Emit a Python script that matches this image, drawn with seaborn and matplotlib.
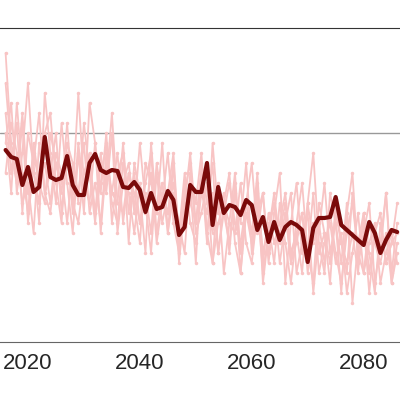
import numpy as np
import pandas as pd
import matplotlib
matplotlib.use("Agg")
import matplotlib.pyplot as plt
import seaborn as sns
from matplotlib.ticker import MultipleLocator

start_year = 2016
mean_vals = [-1.7,-2.4,-2.6,-5.2,-3.4,-5.9,-5.4,-0.4,-4.4,-4.7,-4.5,-2.3,-5.2,-6.2,-6.2,-3.0,-2.1,-3.7,-4.0,-3.7,
             -3.8,-5.4,-5.5,-4.9,-5.7,-7.9,-6.0,-7.6,-7.4,-5.8,-6.7,-10.2,-9.4,-5.2,-5.9,
             -5.9,-3.0,-9.2,-5.4,-8.0,-7.2,-7.4,-8.2,-6.7,-7.2,-9.7,-8.4,-10.9,-8.9,-10.7,-9.4,-8.9,-9.2,-9.7,-12.9,
             -9.5,-8.5,-8.5,-8.4,-6.4,-9.2,-9.7,-10.2,-10.7,-11.2,-8.9,-10.0,-12.0,-10.7,-9.7,-9.9]
member_a = [2,-4,1,-8,0,-3,-9,4,-2,-7,1,-5,-10,-2,-8,3,-1,-6,0,-9,-4,-2,-11,-3,-6,-12,-1,-8,-5,-10,-3,-13,-7,-2,-9,-4,-11,-1,-8,-6,-12,-5,-14,-7,-3,-10,-6,-13,-8,-4,-15,-9,-5,-12,-7,-2,-11,-14,-6,-9,-16,-8,-4,-13,-10,-7,-15,-11,-6,-14,-9]
member_b = [-1,3,-6,-2,5,-4,-7,0,2,-5,-9,-1,-3,-7,1,-4,-8,-2,-6,0,-10,-5,-3,-8,-1,-7,-12,-4,-9,-6,-2,-11,-8,-5,-13,-3,-7,-10,-6,-14,-9,-4,-12,-8,-11,-5,-15,-10,-7,-13,-9,-6,-14,-11,-8,-16,-10,-5,-12,-9,-13,-7,-17,-11,-8,-14,-10,-12,-6,-15,-11]
member_c = [5,-2,-5,1,-9,-3,2,-6,-4,0,-8,-2,-6,4,-5,-7,-1,-10,-3,-6,-2,-9,-4,-7,-11,-3,-5,-8,-1,-10,-6,-9,-12,-4,-7,-2,-10,-13,-5,-8,-11,-6,-9,-3,-12,-7,-14,-10,-6,-11,-8,-13,-9,-5,-12,-15,-7,-10,-13,-8,-11,-14,-6,-12,-9,-16,-10,-8,-13,-11,-7]
member_d = [-4,1,-2,-7,-5,-10,-1,-6,-8,-3,-6,1,-7,-9,-4,-2,-8,-5,-1,-7,-9,-3,-6,-10,-5,-8,-4,-11,-7,-2,-9,-12,-6,-3,-10,-8,-5,-13,-9,-7,-4,-11,-14,-8,-10,-6,-12,-9,-13,-7,-11,-15,-10,-8,-12,-6,-14,-11,-9,-13,-10,-16,-12,-8,-14,-11,-9,-15,-12,-10,-13]
member_e = [0,-6,3,-4,-8,-1,-5,-3,-7,-2,-4,-9,-3,-6,-1,-8,-5,-9,-2,-6,-7,-1,-8,-4,-9,-6,-10,-3,-7,-8,-5,-10,-4,-9,-11,-6,-8,-3,-12,-7,-9,-10,-5,-11,-13,-8,-6,-12,-9,-10,-7,-13,-11,-8,-14,-9,-12,-10,-15,-7,-11,-13,-10,-14,-8,-12,-16,-9,-13,-11,-10]
member_f = [8,-1,-4,2,-6,-2,-5,-7,0,-3,-5,-2,-8,-1,-6,-4,-9,-3,-5,2,-7,-8,-4,-6,-9,-5,-2,-10,-6,-8,-3,-11,-5,-7,-9,-4,-10,-6,-12,-8,-5,-9,-11,-7,-10,-4,-13,-8,-11,-9,-6,-12,-10,-14,-7,-11,-9,-13,-8,-12,-15,-10,-7,-12,-14,-9,-11,-13,-10,-15,-12]
members = {"a": member_a, "b": member_b, "c": member_c, "d": member_d, "e": member_e, "f": member_f}
tick_years = [2020, 2040, 2060, 2080]

rows = []
for name, vals in members.items():
    for i, v in enumerate(vals):
        rows.append({"member": name, "year": start_year + i, "value": v})
df = pd.DataFrame(rows)
mdf = pd.DataFrame({"year": np.arange(start_year, start_year + len(mean_vals)), "value": mean_vals})

sns.set_style("white")
plt.rcParams["font.family"] = ["Liberation Sans", "DejaVu Sans"]
fig = plt.figure(figsize=(4, 4), dpi=100)
ax = fig.add_axes([0.0, 0.145, 1.0, 0.785])
ax.axhline(0, color="#999999", lw=1, zorder=1)
sns.lineplot(data=df, x="year", y="value", units="member", estimator=None, color="#f8c4c4",
             lw=1.3, marker="o", markersize=2.5, markeredgewidth=0, ax=ax, legend=False, zorder=2)
sns.lineplot(data=mdf, x="year", y="value", color="#7a0a0a", lw=3.0, ax=ax, zorder=3)
ax.set_xlim(2015.0, 2086.5)
ax.set_ylim(-20.9, 10.5)
ax.set_xticks(tick_years)
ax.set_xticklabels([str(t) for t in tick_years], fontsize=16)
ax.xaxis.set_minor_locator(MultipleLocator(10))
ax.tick_params(axis="x", which="both", direction="in", length=5, color="#555555", pad=8)
ax.set_yticks([])
ax.set_xlabel("")
ax.set_ylabel("")
for s in ["left", "right"]:
    ax.spines[s].set_visible(False)
ax.spines["top"].set_color("#333333")
ax.spines["bottom"].set_color("#666666")
fig.savefig("out.png", dpi=100)
